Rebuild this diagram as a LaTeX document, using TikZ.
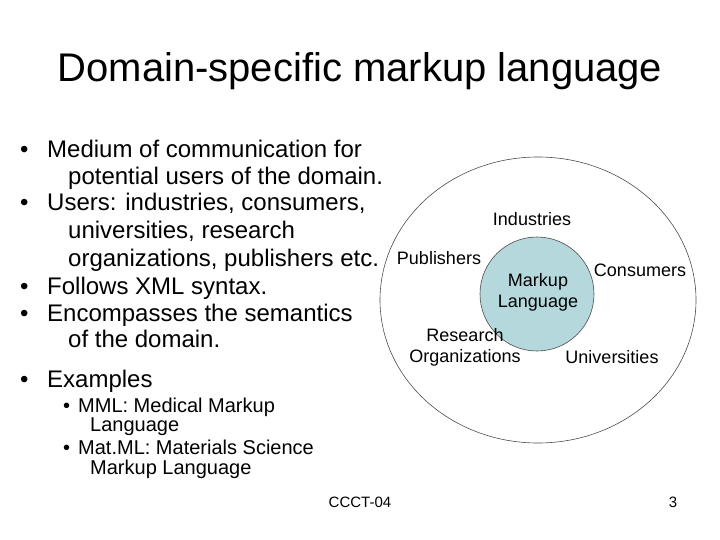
\documentclass[tikz,border=0pt]{standalone}
\usepackage{fontspec}
\setmainfont{Liberation Sans}
\begin{document}
\begin{tikzpicture}[x=1pt,y=-1pt,
  t/.style={anchor=base west,inner sep=0pt},
  big/.style={t,font=\fontsize{24}{28}\selectfont},
  sml/.style={t,font=\fontsize{20}{23}\selectfont},
  lbl/.style={align=center,inner sep=0pt,font=\fontsize{18}{21}\selectfont}]
\useasboundingbox (0,0) rectangle (720,540);
\node[anchor=base,inner sep=0pt,font=\fontsize{40}{44}\selectfont] (title) at (360,82) {Domain-specific markup language};
\foreach \y/\b/\txt [count=\i] in {158/1/Medium of communication for, 185/0/potential users of the domain., 211/1/{Users: industries, consumers,}, 238/0/{universities, research}, 266/0/{organizations, publishers etc.}, 294/1/Follows XML syntax., 321/1/Encompasses the semantics, 347/0/of the domain., 387/1/Examples}{
  \ifnum\b=1
    \node[big] (b\i) at (20,\y) {•};
    \node[big] (l\i) at (47,\y) {\txt};
  \else
    \node[big] (l\i) at (68,\y) {\txt};
  \fi
}
\foreach \y/\b/\txt [count=\i] in {412/1/MML: Medical Markup, 431/0/Language, 454/1/Mat.ML: Materials Science, 474/0/Markup Language}{
  \ifnum\b=1
    \node[sml] (sb\i) at (63,\y) {•};
    \node[sml] (sl\i) at (78,\y) {\txt};
  \else
    \node[sml] (sl\i) at (90,\y) {\txt};
  \fi
}
\node[anchor=base,inner sep=0pt,font=\fontsize{15}{17}\selectfont] (foot) at (360,507) {CCCT-04};
\node[anchor=base,inner sep=0pt,font=\fontsize{15}{17}\selectfont] (page) at (673,507) {3};
\draw[black!70,line width=0.6pt] (538,300) ellipse [x radius=158,y radius=143];
\node[circle,draw=black!70,line width=0.6pt,fill={rgb,255:red,181;green,216;blue,220},minimum size=114pt,inner sep=0pt] (ml) at (537,294) {};
\node[lbl] (mlt) at (538,292) {Markup\\Language};
\node[lbl] (ind) at (532,219) {Industries};
\node[lbl] (pub) at (439,258) {Publishers};
\node[lbl] (con) at (640,270) {Consumers};
\node[lbl] (res) at (465,347) {Research\\Organizations};
\node[lbl] (uni) at (612,357) {Universities};
\end{tikzpicture}
\end{document}
